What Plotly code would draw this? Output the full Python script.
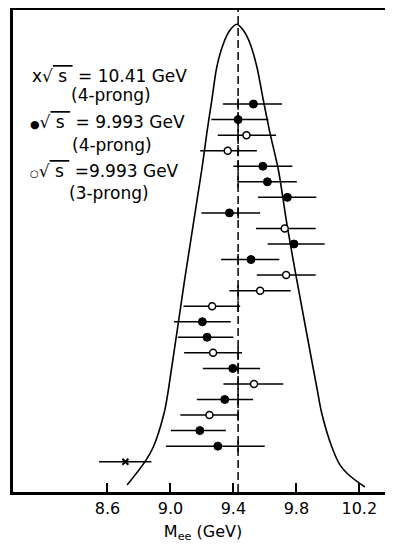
import plotly.graph_objects as go

# ---- data ----
event_row = list(range(1, 25))
sample = ["f", "f", "o", "o", "f", "f", "f", "f", "o", "f", "f", "o",
          "o", "o", "f", "f", "o", "f", "o", "f", "o", "f", "f", "x"]
mass = [9.527, 9.430, 9.483, 9.364, 9.587, 9.616, 9.743, 9.375, 9.726, 9.785, 9.512, 9.735,
        9.570, 9.265, 9.203, 9.233, 9.271, 9.396, 9.531, 9.345, 9.248, 9.187, 9.301, 8.714]
mass_lo = [9.333, 9.260, 9.301, 9.189, 9.400, 9.430, 9.557, 9.197, 9.544, 9.618, 9.322, 9.549,
           9.375, 9.083, 9.023, 9.047, 9.087, 9.206, 9.337, 9.168, 9.063, 9.003, 8.971, 8.547]
mass_hi = [9.709, 9.622, 9.671, 9.549, 9.775, 9.803, 9.927, 9.570, 9.923, 9.980, 9.692, 9.923,
           9.764, 9.443, 9.383, 9.400, 9.455, 9.570, 9.717, 9.525, 9.434, 9.352, 9.599, 8.879]

# resolution curve (GeV, row units)
curve_x = [8.725, 8.839, 8.892, 8.960, 8.987, 9.090, 9.199, 9.231, 9.263, 9.295, 9.337, 9.379, 9.422,
           9.462, 9.506, 9.549, 9.590, 9.633, 9.686, 9.741, 9.803, 9.933, 9.961, 10.025, 10.078, 10.141, 10.236]
curve_y = [25.50, 24.00, 23.04, 20.87, 19.39, 12.32, 5.24, 2.88, 0.74, -1.40, -2.90, -3.76, -4.13,
           -3.76, -2.90, -1.40, 0.74, 2.88, 5.24, 8.78, 12.32, 19.39, 20.87, 23.04, 24.22, 24.92, 25.63]

upsilon_mass = 9.43
tick_vals = [8.6, 9.0, 9.4, 9.8, 10.2]
tick_text = ["8.6", "9.0", "9.4", "9.8", "10.2"]

FONT = "DejaVu Sans"
fig = go.Figure()

# curve
fig.add_trace(go.Scatter(x=curve_x, y=curve_y, mode="lines",
                         line=dict(color="black", width=1.6, shape="spline", smoothing=0.8),
                         hoverinfo="skip", showlegend=False))

# error bars
fig.add_trace(go.Scatter(
    x=mass, y=event_row, mode="markers", marker=dict(size=1, opacity=0),
    error_x=dict(type="data", symmetric=False,
                 array=[h - m for h, m in zip(mass_hi, mass)],
                 arrayminus=[m - l for m, l in zip(mass, mass_lo)],
                 color="black", thickness=1.5, width=0),
    showlegend=False, hoverinfo="skip"))

# small crossing ticks at the dashed line
cross_rows = [r for r, l, h in zip(event_row, mass_lo, mass_hi)
              if l <= upsilon_mass + 0.02 and h >= upsilon_mass - 0.02]
fig.add_trace(go.Scatter(x=[upsilon_mass] * len(cross_rows), y=cross_rows, mode="markers",
                         marker=dict(symbol="line-ns", size=8, line=dict(color="black", width=1.5)),
                         showlegend=False, hoverinfo="skip"))

styles = {
    "f": dict(symbol="circle", size=8, color="black", line=dict(color="black", width=1)),
    "o": dict(symbol="circle", size=7, color="white", line=dict(color="black", width=1.5)),
    "x": dict(symbol="x-thin", size=6, color="black", line=dict(color="black", width=2)),
}
for key, st in styles.items():
    xs = [m for m, s in zip(mass, sample) if s == key]
    ys = [r for r, s in zip(event_row, sample) if s == key]
    fig.add_trace(go.Scatter(x=xs, y=ys, mode="markers", marker=st, showlegend=False))

fig.add_shape(type="line", x0=upsilon_mass, x1=upsilon_mass, y0=0, y1=1, yref="paper",
              line=dict(color="black", width=1.5, dash="8px,4px"))

# page has an 8px body margin: figure is placed at (8, 8)
FIG_W, FIG_H = 385, 536
ML, MT, MB = 5, 2, 52
PW, PH = FIG_W - ML, FIG_H - MT - MB


def px(xp):
    return (xp - 8 - ML) / PW


def py(yp):
    return 1 - (yp - 8 - MT) / PH


SQ = "√<span style='text-decoration:overline'>&nbsp;s&nbsp;</span>"
legend_lines = [
    ("x" + SQ + " = 10.41 GeV", 30, 76),
    ("(4-prong)", 69, 95),
    ("<span style='font-size:11px'>●</span>" + SQ + " = 9.993 GeV", 28, 122),
    ("(4-prong)", 70, 145),
    ("<span style='font-size:10px'>○</span>" + SQ + " =9.993 GeV", 28, 171),
    ("(3-prong)", 67, 193),
]
for txt, xp, yp in legend_lines:
    fig.add_annotation(text=txt, x=px(xp), y=py(yp), xref="paper", yref="paper",
                       xanchor="left", yanchor="middle", showarrow=False,
                       font=dict(family=FONT, size=17, color="black"))

fig.update_xaxes(range=[8.0, 10.414], tickvals=tick_vals, ticktext=tick_text,
                 ticks="inside", ticklen=9, tickwidth=2, tickcolor="black",
                 showline=True, linecolor="black", linewidth=3, mirror=True,
                 showgrid=False, zeroline=False,
                 tickfont=dict(family=FONT, size=16, color="black"),
                 title=dict(text="M<sub>ee</sub> (GeV)", font=dict(family=FONT, size=16, color="black"),
                            standoff=9))
fig.update_yaxes(range=[25.95, -5.05], showticklabels=False, ticks="",
                 showline=True, linecolor="black", linewidth=3, mirror=False,
                 showgrid=False, zeroline=False)

fig.update_layout(width=FIG_W, height=FIG_H, margin=dict(l=ML, r=0, t=MT, b=MB),
                  plot_bgcolor="white", paper_bgcolor="white")
fig.write_html("out.html")
